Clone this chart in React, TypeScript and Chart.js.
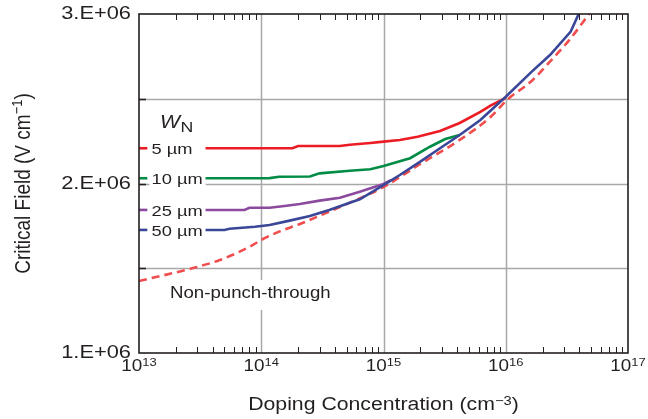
import { useEffect, useRef } from 'react';
import { Chart, registerables } from 'chart.js';

Chart.register(...registerables);

// Axis ticks
const xDecades = [13, 14, 15, 16, 17];
const xMinorMultipliers = [2, 3, 4, 5, 6, 7, 8, 9];
const yTickValues = [1e6, 2e6, 3e6];
const yTickLabels = ['1.E+06', '2.E+06', '3.E+06'];
const yGridValues = [1.5e6, 2e6, 2.5e6];

// Critical field vs. doping for several drift-region widths W_N
const wn5Conc = [3.5e13, 1.8e14, 2.0e14, 4.4e14, 5.3e14, 7.8e14, 1e15, 1.36e15, 1.9e15, 2.9e15, 4.2e15, 6.2e15, 7.5e15, 1.0e16];
const wn5Field = [2.208e6, 2.208e6, 2.221e6, 2.221e6, 2.229e6, 2.239e6, 2.247e6, 2.257e6, 2.276e6, 2.31e6, 2.357e6, 2.422e6, 2.46e6, 2.505e6];

const wn10Conc = [3.5e13, 1.17e14, 1.4e14, 2.5e14, 3.0e14, 5.3e14, 7.8e14, 1e15, 1.65e15, 2.4e15, 3.2e15, 4.2e15];
const wn10Field = [2.031e6, 2.032e6, 2.04e6, 2.041e6, 2.06e6, 2.075e6, 2.084e6, 2.103e6, 2.149e6, 2.217e6, 2.262e6, 2.286e6];

const wn25Conc = [3.5e13, 7.3e13, 8e13, 1.17e14, 1.55e14, 2.07e14, 3.0e14, 4.4e14, 6.4e14, 1e15, 1.15e15];
const wn25Field = [1.844e6, 1.844e6, 1.857e6, 1.857e6, 1.867e6, 1.879e6, 1.899e6, 1.916e6, 1.952e6, 1.997e6, 2.02e6];

const wn50Conc = [3.5e13, 5.0e13, 5.5e13, 8.9e13, 1.17e14, 1.71e14, 2.5e14, 3.6e14, 5.3e14, 6.4e14, 1e15, 1.36e15, 2.0e15, 2.9e15, 4.2e15, 6.2e15, 1e16, 1.6e16, 2.3e16, 3.4e16, 3.95e16];
const wn50Field = [1.726e6, 1.726e6, 1.733e6, 1.745e6, 1.755e6, 1.781e6, 1.808e6, 1.844e6, 1.887e6, 1.907e6, 1.991e6, 2.05e6, 2.129e6, 2.208e6, 2.286e6, 2.375e6, 2.512e6, 2.654e6, 2.758e6, 2.896e6, 3.0e6];

// Non-punch-through limit
const nptConc = [1e13, 2.6e13, 4.6e13, 8.05e13, 1e14, 1.4e14, 2.07e14, 3.6e14, 4.8e14, 1e15, 2.0e15, 4.2e15, 7.5e15, 1.05e16, 1.6e16, 2.3e16, 3.4e16, 4.8e16];
const nptField = [1.425e6, 1.496e6, 1.549e6, 1.627e6, 1.667e6, 1.716e6, 1.761e6, 1.834e6, 1.873e6, 1.979e6, 2.115e6, 2.257e6, 2.392e6, 2.5e6, 2.6e6, 2.719e6, 2.857e6, 3.0e6];

// Short key marks at the left edge, next to each W_N label
const keyConc = [1e13, 1.17e13];

const widthLabels = ['5 µm', '10 µm', '25 µm', '50 µm'];
const widthColors = ['#ec1c24', '#008c45', '#8b4a9e', '#3a4799'];
const nptColor = '#f04e4e';

const FONT = '"Liberation Sans", Arial, Helvetica, sans-serif';
const SX = 1.18;
const GRID = '#a8a8a8';
const INK = '#231f20';

const pts = (xs: number[], ys: number[]) => xs.map((x, i) => ({ x, y: ys[i] }));

function textW(ctx: CanvasRenderingContext2D, t: string, font: string) {
  ctx.font = font;
  return ctx.measureText(t).width * SX;
}

function drawText(ctx: CanvasRenderingContext2D, t: string, x: number, y: number, font: string, align: CanvasTextAlign = 'left', baseline: CanvasTextBaseline = 'alphabetic') {
  ctx.save();
  ctx.translate(x, y);
  ctx.scale(SX, 1);
  ctx.font = font;
  ctx.textAlign = align;
  ctx.textBaseline = baseline;
  ctx.fillStyle = INK;
  ctx.fillText(t, 0, 0);
  ctx.restore();
}

const seriesFields = [wn5Field, wn10Field, wn25Field, wn50Field];

const overlay = {
  id: 'overlay',
  beforeDatasetsDraw(chart: any) {
    const { ctx, chartArea: a, scales } = chart;
    const xs = scales.x;
    const ys = scales.y;
    ctx.save();
    ctx.strokeStyle = GRID;
    ctx.lineWidth = 1.5;
    for (const d of xDecades.slice(1, -1)) {
      const px = Math.round(xs.getPixelForValue(10 ** d)) + 0.5;
      ctx.beginPath();
      ctx.moveTo(px, a.top);
      ctx.lineTo(px, a.bottom);
      ctx.stroke();
    }
    for (const v of yGridValues) {
      const py = Math.round(ys.getPixelForValue(v)) + 0.5;
      ctx.beginPath();
      ctx.moveTo(a.left, py);
      ctx.lineTo(a.right, py);
      ctx.stroke();
    }

    // W_N heading
    ctx.fillStyle = INK;
    drawText(ctx, 'W', a.left + 21, 127.5, `italic 18px ${FONT}`);
    drawText(ctx, 'N', a.left + 41.5, 131.5, `15px ${FONT}`);

    // width labels with white backing
    const lf = `15.5px ${FONT}`;
    widthLabels.forEach((lab, i) => {
      const py = ys.getPixelForValue(seriesFields[i][0]) + 1.5;
      const lx = a.left + 12.5;
      const w = textW(ctx, lab, lf);
      ctx.fillStyle = '#fff';
      ctx.fillRect(lx - 2, py - 10, w + 5, 20);
      drawText(ctx, lab, lx, py, lf, 'left', 'middle');
    });

    // non-punch-through note
    const nf = `15.8px ${FONT}`;
    const nt = 'Non-punch-through';
    const nw = textW(ctx, nt, nf);
    ctx.fillStyle = '#fff';
    ctx.fillRect(a.left + 29, 280, nw + 4, 30);
    drawText(ctx, nt, a.left + 31, 298, nf);
    ctx.restore();
  },
  afterDatasetsDraw(chart: any) {
    const { ctx, chartArea: a, scales } = chart;
    const xs = scales.x;
    const ys = scales.y;
    ctx.save();
    // minor ticks on top and bottom edges
    ctx.strokeStyle = INK;
    ctx.lineWidth = 1;
    for (const d of xDecades.slice(0, -1)) {
      for (const m of xMinorMultipliers) {
        const px = Math.round(xs.getPixelForValue(m * 10 ** d)) + 0.5;
        ctx.beginPath();
        ctx.moveTo(px, a.bottom);
        ctx.lineTo(px, a.bottom - 6);
        ctx.moveTo(px, a.top);
        ctx.lineTo(px, a.top + 6);
        ctx.stroke();
      }
    }
    // left-edge ticks
    ctx.lineWidth = 1.6;
    for (const v of yGridValues) {
      const py = Math.round(ys.getPixelForValue(v)) + 0.5;
      ctx.beginPath();
      ctx.moveTo(a.left, py);
      ctx.lineTo(a.left + 7, py);
      ctx.stroke();
    }
    // frame
    ctx.lineWidth = 1.6;
    ctx.strokeRect(a.left, a.top, a.right - a.left, a.bottom - a.top);

    // y tick labels
    const yf = `18.5px ${FONT}`;
    yTickValues.forEach((v, i) => {
      drawText(ctx, yTickLabels[i], a.left - 8, ys.getPixelForValue(v), yf, 'right', 'middle');
    });

    // x tick labels 10^n
    const bf = `16px ${FONT}`;
    const sf = `11px ${FONT}`;
    for (const d of xDecades) {
      const px = xs.getPixelForValue(10 ** d);
      const w1 = textW(ctx, '10', bf);
      const w2 = textW(ctx, String(d), sf);
      const x0 = px - (w1 + w2) / 2;
      drawText(ctx, '10', x0, 370.5, bf);
      drawText(ctx, String(d), x0 + w1, 365.5, sf);
    }

    // x title
    const tf = `18px ${FONT}`;
    const tsf = `12.5px ${FONT}`;
    const p1 = 'Doping Concentration (cm';
    const p2 = '\u22123';
    const p3 = ')';
    const tw = textW(ctx, p1, tf) + textW(ctx, p2, tsf) + textW(ctx, p3, tf);
    let tx = (a.left + a.right) / 2 - tw / 2;
    drawText(ctx, p1, tx, 409.5, tf);
    tx += textW(ctx, p1, tf);
    drawText(ctx, p2, tx, 404.5, tsf);
    tx += textW(ctx, p2, tsf);
    drawText(ctx, p3, tx, 409.5, tf);

    // y title (rotated)
    const q1 = 'Critical Field (V cm';
    const q2 = '\u22121';
    const q3 = ')';
    const yf2 = `19px ${FONT}`;
    const ysf = `13px ${FONT}`;
    ctx.font = yf2;
    const l1 = ctx.measureText(q1).width;
    const l3 = ctx.measureText(q3).width;
    ctx.font = ysf;
    const l2 = ctx.measureText(q2).width;
    const total = l1 + l2 + l3;
    ctx.translate(29.5, (a.top + a.bottom) / 2);
    ctx.rotate(-Math.PI / 2);
    ctx.scale(1, SX);
    ctx.fillStyle = INK;
    ctx.textBaseline = 'alphabetic';
    ctx.textAlign = 'left';
    let s = -total / 2;
    ctx.font = yf2;
    ctx.fillText(q1, s, 0);
    s += l1;
    ctx.font = ysf;
    ctx.fillText(q2, s, -6);
    s += l2;
    ctx.font = yf2;
    ctx.fillText(q3, s, 0);
    ctx.restore();
  },
};

export default function App() {
  const ref = useRef<HTMLCanvasElement | null>(null);

  useEffect(() => {
    document.body.style.margin = '0';
    const canvas = ref.current;
    if (!canvas) return;

    const curves = [
      { conc: wn50Conc, field: wn50Field, color: widthColors[3] },
      { conc: wn25Conc, field: wn25Field, color: widthColors[2] },
      { conc: wn10Conc, field: wn10Field, color: widthColors[1] },
      { conc: wn5Conc, field: wn5Field, color: widthColors[0] },
    ];

    const datasets: any[] = [];
    curves.forEach((c, i) => {
      datasets.push({
        data: pts(c.conc, c.field),
        borderColor: c.color,
        borderWidth: 2.6,
        pointRadius: 0,
        order: i,
      });
      datasets.push({
        data: pts(keyConc, [c.field[0], c.field[0]]),
        borderColor: c.color,
        borderWidth: 2.6,
        pointRadius: 0,
        order: i,
      });
    });
    datasets.push({
      data: pts(nptConc, nptField),
      borderColor: nptColor,
      borderWidth: 2.6,
      borderDash: [8, 5],
      pointRadius: 0,
      cubicInterpolationMode: 'monotone',
      order: 10,
    });

    const chart = new Chart(canvas, {
      type: 'line',
      data: { datasets },
      options: {
        responsive: false,
        animation: false,
        devicePixelRatio: 1,
        layout: { padding: { left: 139, right: 20, top: 14, bottom: 66 } },
        plugins: { legend: { display: false }, tooltip: { enabled: false } },
        scales: {
          x: { type: 'logarithmic', min: 1e13, max: 1e17, display: false },
          y: { type: 'linear', min: 1e6, max: 3e6, display: false },
        },
      },
      plugins: [overlay],
    });
    return () => chart.destroy();
  }, []);

  return <canvas ref={ref} width={648} height={419} style={{ display: 'block' }} />;
}
